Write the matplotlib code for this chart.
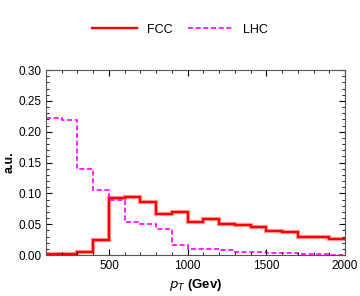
import numpy as np
import matplotlib.pyplot as plt
from matplotlib.ticker import MultipleLocator

plt.rcParams['font.family'] = ['Liberation Sans', 'DejaVu Sans']

# bin edges in pT (GeV)
edges = np.arange(100, 2001, 100)

# normalised distributions
fcc = [0.001, 0.001, 0.005, 0.024, 0.092, 0.0935, 0.0855, 0.0665, 0.069, 0.053,
       0.0585, 0.051, 0.0487, 0.0454, 0.039, 0.038, 0.030, 0.030, 0.026]
lhc = [0.2227, 0.219, 0.140, 0.105, 0.089, 0.053, 0.051, 0.042, 0.017, 0.010,
       0.010, 0.008, 0.0045, 0.0045, 0.004, 0.004, 0.0017, 0.0017, 0.0]

fig = plt.figure(figsize=(3.6, 2.96), dpi=100)
ax = fig.add_axes([0.1278, 0.1385, 0.8305, 0.625])

# pale halo under the red line, like the antialiased original
ax.stairs(fcc, edges, baseline=None, color='red', alpha=0.3, linewidth=3.2)
ax.stairs(fcc, edges, baseline=None, color='red', linewidth=1.7, label='FCC')
ax.stairs(lhc, edges, baseline=None, color='magenta', linewidth=1.2,
          linestyle=(0, (3, 1.6)), label='LHC')

ax.set_xlim(100, 2000)
ax.set_ylim(0, 0.30)
ax.xaxis.set_major_locator(MultipleLocator(500))
ax.xaxis.set_minor_locator(MultipleLocator(100))
ax.yaxis.set_major_locator(MultipleLocator(0.05))
ax.yaxis.set_minor_locator(MultipleLocator(0.01))
ax.yaxis.set_major_formatter(lambda v, p: f'{v:.2f}')
ax.tick_params(which='both', direction='in', top=True, right=True, labelsize=8.5, colors='black')
ax.tick_params(which='major', length=4, width=0.8)
ax.tick_params(which='minor', length=2, width=0.6)
for s in ax.spines.values():
    s.set_color('#555555')
    s.set_linewidth(0.8)

ax.set_xlabel(r'$\boldsymbol{p_T}$ (Gev)', fontsize=9.5, fontweight='bold', labelpad=4)
ax.set_ylabel('a.u.', fontsize=9, fontweight='bold', labelpad=1.5)

h, l = ax.get_legend_handles_labels()
fig.legend(h, l, loc='center', bbox_to_anchor=(0.5, 0.9), ncol=2,
           frameon=False, fontsize=9, handlelength=3.6, columnspacing=1.2, handletextpad=0.8)

fig.savefig('out.png', dpi=100)
